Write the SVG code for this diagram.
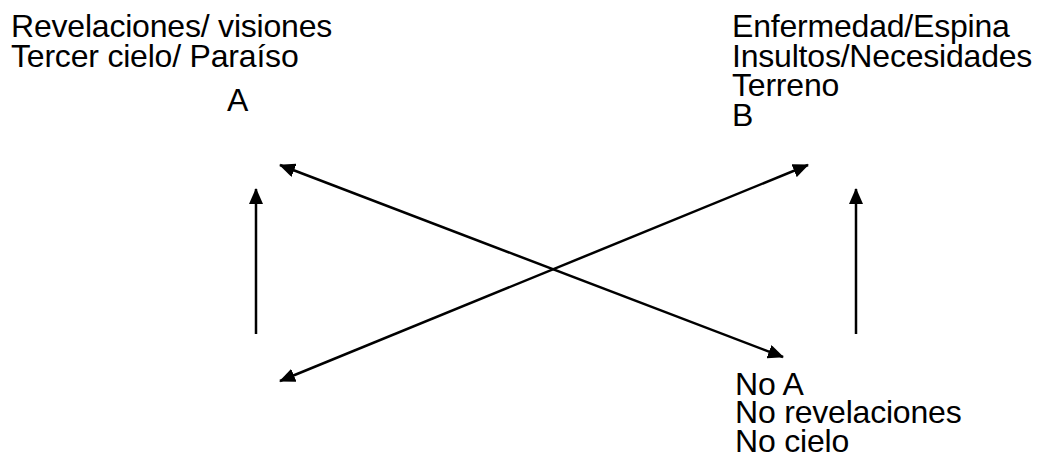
<svg xmlns="http://www.w3.org/2000/svg" width="1043" height="476" viewBox="0 0 1043 476">
<style>
text{font-family:"Liberation Sans",Arial,sans-serif;font-size:32px;letter-spacing:-0.2px;fill:#000}
.c{stroke:#000;stroke-width:2.5;fill:none}
</style>
<defs>
<marker id="ah" viewBox="0 0 16 14" refX="15" refY="7" markerWidth="16" markerHeight="14" markerUnits="userSpaceOnUse" orient="auto-start-reverse">
<path d="M0,0 L16,7 L0,14 Z" fill="#000"/>
</marker>
</defs>
<rect width="1043" height="476" fill="#fff"/>
<g id="nodeA">
<text x="11" y="37">Revelaciones/ visiones</text>
<text x="11" y="66.5">Tercer cielo/ Paraíso</text>
<text x="227" y="111">A</text>
</g>
<g id="nodeB">
<text x="732" y="37">Enfermedad/Espina</text>
<text x="732" y="66.5">Insultos/Necesidades</text>
<text x="732" y="96">Terreno</text>
<text x="732" y="125.5">B</text>
</g>
<g id="nodeNoA">
<text x="735" y="395">No A</text>
<text x="735" y="423">No revelaciones</text>
<text x="735" y="451.5">No cielo</text>
</g>
<g id="connectors">
<line class="c" x1="256" y1="334" x2="256" y2="189" marker-end="url(#ah)"/>
<line class="c" x1="856" y1="334" x2="856" y2="189" marker-end="url(#ah)"/>
<line class="c" x1="280" y1="165" x2="783" y2="357" marker-start="url(#ah)" marker-end="url(#ah)"/>
<line class="c" x1="280" y1="381" x2="808" y2="165" marker-start="url(#ah)" marker-end="url(#ah)"/>
</g>
</svg>
